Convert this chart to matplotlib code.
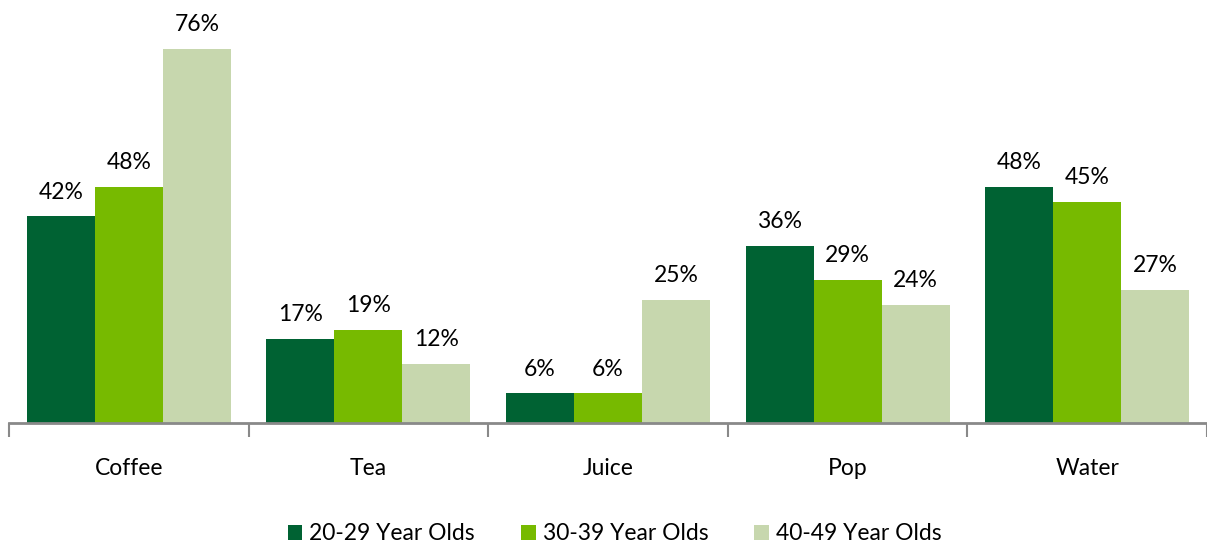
import matplotlib.pyplot as plt
import numpy as np

plt.rcParams['font.family'] = ['Lato', 'DejaVu Sans']

categories = ["Coffee", "Tea", "Juice", "Pop", "Water"]
series_names = ["20-29 Year Olds", "30-39 Year Olds", "40-49 Year Olds"]
age_20_29 = [42, 17, 6, 36, 48]
age_30_39 = [48, 19, 6, 29, 45]
age_40_49 = [76, 12, 25, 24, 27]
colors = ["#006233", "#77BA00", "#C7D7AE"]

fig = plt.figure(figsize=(12.07, 5.46), dpi=100)
ax = fig.add_axes([9 / 1207, 1 - 423 / 546, 1198 / 1207, 423 / 546])

x = np.arange(len(categories))
w = 0.284
for i, (vals, name) in enumerate(zip([age_20_29, age_30_39, age_40_49], series_names)):
    pos = x + (i - 1) * w
    bars = ax.bar(pos, vals, width=w, color=colors[i], label=name)
    for b, v in zip(bars, vals):
        ax.annotate(f"{v}%", (b.get_x() + b.get_width() / 2, v),
                    xytext=(0, 10), textcoords="offset points",
                    ha="center", va="bottom", fontsize=16.5)

ax.set_xlim(-0.5, 4.48)
ax.set_ylim(0, 86)
ax.set_yticks([])
for s in ["top", "right", "left"]:
    ax.spines[s].set_visible(False)
ax.spines["bottom"].set_color("#898989")
ax.spines["bottom"].set_linewidth(2)

# group separators as major ticks, category names as minor tick labels
ax.set_xticks(np.arange(-0.5, 5, 1), minor=False)
ax.set_xticklabels([])
ax.tick_params(axis="x", which="major", length=10, width=1.5, color="#898989")
ax.set_xticks(x, minor=True)
ax.set_xticklabels(categories, minor=True, fontsize=16.5)
ax.tick_params(axis="x", which="minor", length=0, pad=25)

ax.legend(loc="center", bbox_to_anchor=(0.5054, -0.262), ncol=3, frameon=False,
          fontsize=16.5, handlelength=0.65, handleheight=0.65, handletextpad=0.3,
          columnspacing=2.0)

fig.savefig("out.png", dpi=100)
